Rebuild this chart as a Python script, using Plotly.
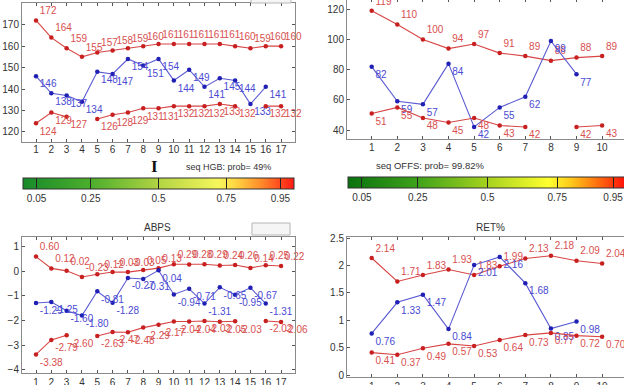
import plotly.graph_objects as go

W, H = 624, 385

# ---------------- data ----------------
hgb_x = list(range(1, 18))
hgb_upper = [172, 164, 159, 155, 157, 158, 159, 160, 161, 161, 161, 161, 161, 160, 159, 160, 160]
hgb_value = [146, 138, 137, 134, 148, 147, 154, 151, 154, 144, 149, 141, 145, 144, 133, 141, None]
hgb_lower = [124, 129, 127, None, 126, 128, 129, 131, 131, 132, 132, 132, 133, 132, None, 132, 132]

offs_x = list(range(1, 11))
offs_upper = [119, 110, 100, 94, 97, 91, 89, 86, 88, 89]
offs_value = [82, 59, 57, 84, 42, 55, 62, 99, 77, None]
offs_lower = [51, 55, 48, 45, 48, 43, 42, None, 42, 43]

abps_x = list(range(1, 18))
abps_upper = [0.60, 0.12, 0.02, -0.23, -0.12, -0.03, -0.03, 0.05, 0.13, 0.29, 0.28, 0.29, 0.24, 0.26, 0.14, 0.25, 0.22]
abps_value = [-1.29, -1.25, -1.60, -1.80, -0.81, -1.28, -0.27, -0.31, 0.04, -0.94, -0.71, -1.31, -0.65, -0.95, -0.67, -1.31, None]
abps_lower = [-3.38, -2.79, -2.60, None, -2.63, -2.47, -2.48, -2.29, -2.17, -2.04, -2.04, -2.02, -2.05, -2.03, None, -2.02, -2.06]

ret_x = list(range(1, 11))
ret_upper = [2.14, 1.71, 1.83, 1.93, 1.83, 1.99, 2.13, 2.18, 2.09, 2.04]
ret_value = [0.76, 1.33, 1.47, 0.84, 2.01, 2.16, 1.68, 0.85, 0.98, None]
ret_lower = [0.41, 0.37, 0.49, 0.57, 0.53, 0.64, 0.73, 0.77, 0.72, 0.70]

prob_ticks = [0.05, 0.25, 0.5, 0.75, 0.95]
prob_ticktext = ["0.05", "0.25", "0.5", "0.75", "0.95"]
hgb_prob_text = "seq HGB: prob= 49%"
offs_prob_text = "seq OFFS: prob= 99.82%"

# ---------------- style ----------------
RED_LINE, RED_MARK, RED_TEXT = "#d84545", "#c82020", "#d85050"
BLUE_LINE, BLUE_MARK, BLUE_TEXT = "#5a5ad2", "#2020b4", "#4a4ad2"
FONT = "Liberation Sans, Arial, sans-serif"


def px_x(p):
    return p / W


def px_y(p):
    return 1 - p / H


def fmt(vals, dec):
    out = []
    for v in vals:
        if v is None:
            out.append("")
        else:
            out.append(f"{v:.{dec}f}")
    return out


fig = go.Figure()


def add_series(x, y, xa, ya, line, mark, tcol, pos, dec, size):
    fig.add_trace(go.Scatter(
        x=x, y=y, xaxis=xa, yaxis=ya, mode="lines+markers+text",
        line=dict(color=line, width=1.1), marker=dict(color=mark, size=4.5),
        text=fmt(y, dec), textposition=pos,
        textfont=dict(color=tcol, size=size, family=FONT),
        cliponaxis=False, showlegend=False, hoverinfo="skip", connectgaps=False))


# top-left HGB
add_series(hgb_x, hgb_upper, "x", "y", RED_LINE, RED_MARK, RED_TEXT, "top right", 0, 10)
add_series(hgb_x, hgb_value, "x", "y", BLUE_LINE, BLUE_MARK, BLUE_TEXT, "bottom right", 0, 10)
add_series(hgb_x, hgb_lower, "x", "y", RED_LINE, RED_MARK, RED_TEXT, "bottom right", 0, 10)
# top-right OFFS
add_series(offs_x, offs_upper, "x2", "y2", RED_LINE, RED_MARK, RED_TEXT, "top right", 0, 10)
add_series(offs_x, offs_value, "x2", "y2", BLUE_LINE, BLUE_MARK, BLUE_TEXT, "bottom right", 0, 10)
add_series(offs_x, offs_lower, "x2", "y2", RED_LINE, RED_MARK, RED_TEXT, "bottom right", 0, 10)
# bottom-left ABPS
add_series(abps_x, abps_upper, "x3", "y3", RED_LINE, RED_MARK, RED_TEXT, "top right", 2, 10)
add_series(abps_x, abps_value, "x3", "y3", BLUE_LINE, BLUE_MARK, BLUE_TEXT, "bottom right", 2, 10)
add_series(abps_x, abps_lower, "x3", "y3", RED_LINE, RED_MARK, RED_TEXT, "bottom right", 2, 10)
# bottom-right RET%
add_series(ret_x, ret_upper, "x4", "y4", RED_LINE, RED_MARK, RED_TEXT, "top right", 2, 10)
add_series(ret_x, ret_value, "x4", "y4", BLUE_LINE, BLUE_MARK, BLUE_TEXT, "bottom right", 2, 10)
add_series(ret_x, ret_lower, "x4", "y4", RED_LINE, RED_MARK, RED_TEXT, "bottom right", 2, 10)

# colorbar carrier traces
fig.add_trace(go.Scatter(x=[None], y=[None], xaxis="x", yaxis="y", mode="markers",
                         marker=dict(color=[0.5], coloraxis="coloraxis"), showlegend=False, hoverinfo="skip"))
fig.add_trace(go.Scatter(x=[None], y=[None], xaxis="x2", yaxis="y2", mode="markers",
                         marker=dict(color=[0.5], coloraxis="coloraxis2"), showlegend=False, hoverinfo="skip"))

axis_common = dict(showgrid=False, zeroline=False, showline=True, linecolor="#8a8a8a", linewidth=1,
                   ticks="inside", ticklen=3, tickcolor="#555", tickfont=dict(size=10, color="#333", family=FONT))

cs_left = [[0.0, "#178a2a"], [0.25, "#4cae2c"], [0.5, "#b2d443"], [0.72, "#f6f65c"],
           [0.78, "#ffd844"], [0.88, "#ff8a2a"], [1.0, "#ff1a14"]]
cs_right = [[0.0, "#0a720e"], [0.25, "#3ea21a"], [0.5, "#a6d21e"], [0.72, "#ffff2e"],
            [0.8, "#ffc81a"], [0.9, "#ff6a0e"], [1.0, "#ff0a0a"]]

cb_common = dict(orientation="h", thickness=11, thicknessmode="pixels", lenmode="pixels",
                 xanchor="left", yanchor="top", xpad=0, ypad=0, outlinewidth=1, outlinecolor="#333",
                 tickvals=prob_ticks, ticktext=prob_ticktext, ticks="inside", ticklen=11,
                 tickcolor="#222", tickwidth=1, ticklabeloverflow="allow",
                 tickfont=dict(size=10, color="#333", family=FONT))

fig.update_layout(
    width=W, height=H, margin=dict(l=0, r=0, t=0, b=0, autoexpand=False),
    paper_bgcolor="white", plot_bgcolor="white", showlegend=False,
    font=dict(family=FONT, color="#333"),
    xaxis=dict(domain=[px_x(22), px_x(295)], anchor="y", range=[0.085, 17.91],
               tickvals=hgb_x, mirror="ticks", ticklabelstandoff=-2, **axis_common),
    yaxis=dict(domain=[px_y(141.5), px_y(3.3)], anchor="x", range=[115.5, 180],
               tickvals=[120, 130, 140, 150, 160, 170], mirror="ticks", **axis_common),
    xaxis2=dict(domain=[px_x(347), 1], anchor="y2", range=[0.035, 10.855],
                tickvals=offs_x, mirror=False, ticklabelstandoff=-1, **axis_common),
    yaxis2=dict(domain=[px_y(139.3), 1], anchor="x2", range=[33.84, 126.2],
                tickvals=[40, 60, 80, 100, 120], mirror=False, **axis_common),
    xaxis5=dict(overlaying="x2", side="top", range=[0.035, 10.855], tickvals=offs_x,
                showticklabels=False, ticks="inside", ticklen=2, tickcolor="#555",
                showline=False, showgrid=False, zeroline=False, anchor="y2"),
    xaxis3=dict(domain=[px_x(22), px_x(295)], anchor="y3", range=[0.085, 17.91],
                tickvals=abps_x, mirror="ticks", **axis_common),
    yaxis3=dict(domain=[px_y(373.3), px_y(236.7)], anchor="x3", range=[-4.15, 1.41],
                tickvals=[-4, -3, -2, -1, 0, 1], mirror="ticks", **axis_common),
    xaxis4=dict(domain=[px_x(347), 1], anchor="y4", range=[0.035, 10.855],
                tickvals=ret_x, mirror="ticks", **axis_common),
    yaxis4=dict(domain=[px_y(376.5), px_y(236.5)], anchor="x4", range=[-0.027, 2.533],
                tickvals=[0, 0.5, 1, 1.5, 2, 2.5], ticktext=["0", "0.5", "1", "1.5", "2", "2.5"],
                mirror=False, **axis_common),
    coloraxis=dict(cmin=0, cmax=1, colorscale=cs_left,
                   colorbar=dict(x=px_x(23), y=px_y(177.5), len=271, **cb_common)),
    coloraxis2=dict(cmin=0, cmax=1, colorscale=cs_right,
                    colorbar=dict(x=px_x(348), y=px_y(177.3), len=279, **cb_common)),
)

# need a trace on xaxis5 so it's drawn
fig.add_trace(go.Scatter(x=[None], y=[None], xaxis="x5", yaxis="y2", showlegend=False, hoverinfo="skip"))

annotations = [
    dict(x=px_x(157), y=px_y(227), text="ABPS", font=dict(size=10, color="#333", family=FONT)),
    dict(x=px_x(490), y=px_y(227), text="RET%", font=dict(size=10, color="#333", family=FONT)),
    dict(x=px_x(228), y=px_y(166.7), text=hgb_prob_text, font=dict(size=9, color="#333", family=FONT)),
    dict(x=px_x(430.5), y=px_y(165), text=offs_prob_text, font=dict(size=9.5, color="#333", family=FONT)),
    dict(x=px_x(154), y=px_y(166.5), text="<b>I</b>",
         font=dict(size=17, color="#111", family="Liberation Serif, DejaVu Serif, serif")),
]
for a in annotations:
    a.update(xref="paper", yref="paper", showarrow=False, xanchor="center", yanchor="middle")
fig.update_layout(annotations=annotations)

shapes = [
    dict(type="rect", xref="paper", yref="paper", x0=px_x(251), x1=px_x(291), y0=px_y(3), y1=px_y(-10),
         line=dict(color="#b5b5b5", width=1), fillcolor="#f5f5f5", layer="above"),
    dict(type="rect", xref="paper", yref="paper", x0=px_x(252), x1=px_x(290), y0=px_y(235), y1=px_y(223),
         line=dict(color="#b5b5b5", width=1), fillcolor="#f5f5f5", layer="above"),
]
fig.update_layout(shapes=shapes)

fig.write_html("out.html", config={"displayModeBar": False},
               post_script="document.body.style.margin='0px';document.body.style.overflow='hidden';")
